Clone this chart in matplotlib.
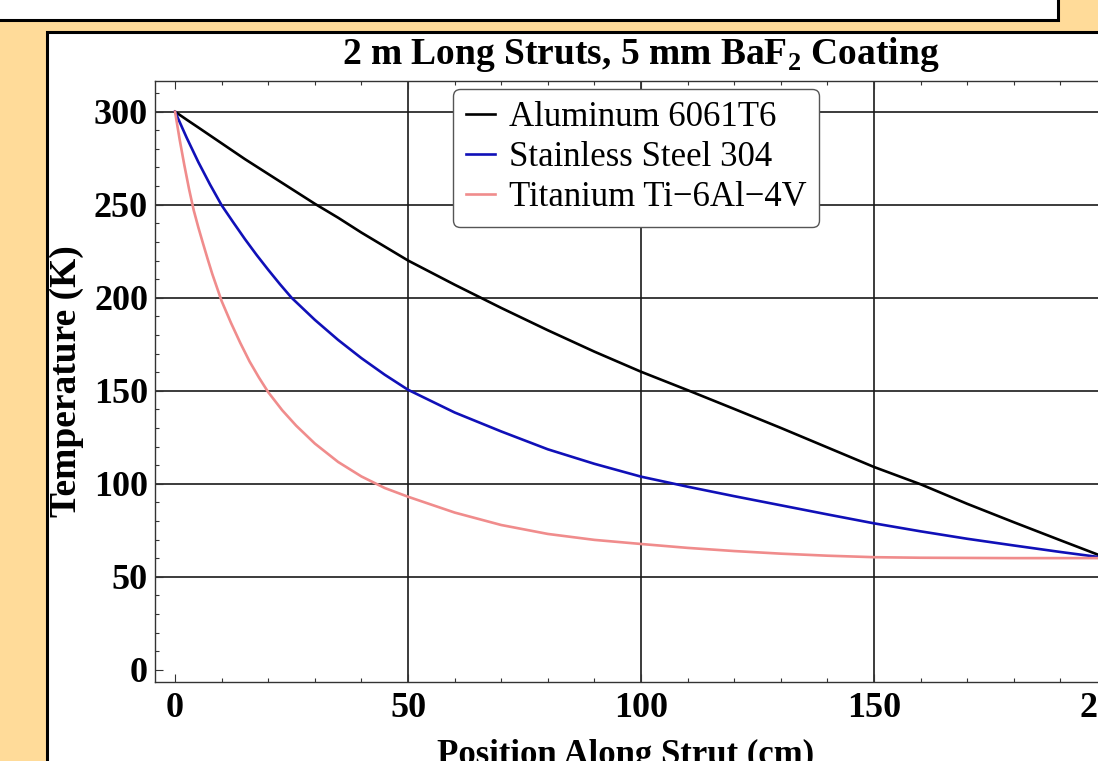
import matplotlib
matplotlib.use("Agg")
import matplotlib.pyplot as plt
from matplotlib.patches import Rectangle
from matplotlib.ticker import MultipleLocator

plt.rcParams['font.family'] = ['Liberation Serif', 'DejaVu Serif']
plt.rcParams['mathtext.fontset'] = 'custom'
plt.rcParams['mathtext.rm'] = 'Liberation Serif:bold'
plt.rcParams['mathtext.bf'] = 'Liberation Serif:bold'

# ---------------- data ----------------
title = r'2 m Long Struts, 5 mm BaF$_\mathbf{2}$ Coating'
xlabel = 'Position Along Strut (cm)'
ylabel = 'Temperature (K)'
series_names = ['Aluminum 6061T6', 'Stainless Steel 304', 'Titanium Ti\u22126Al\u22124V']

al_x = [0, 2.5, 5, 10, 15, 20, 25, 30, 35, 40, 45, 50, 60, 70, 80, 90, 100, 110, 120,
        130, 140, 150, 160, 170, 180, 190, 200]
al_T = [300, 295.7, 291.5, 283, 274.5, 266.5, 258.5, 250.5, 243, 235, 227.5, 220, 207,
        194.5, 182.5, 171, 160.2, 150.3, 140.2, 130, 119.5, 109, 99.7, 89.2, 79.3,
        69.6, 60]

ss_x = [0, 2.5, 5, 7.5, 10, 12.5, 15, 17.5, 20, 22.5, 25, 30, 35, 40, 45, 50, 60,
        70, 80, 90, 100, 110, 120, 130, 140, 150, 160, 170, 180, 190, 200]
ss_T = [300, 286, 272.9, 260.9, 249.7, 240.5, 231.5, 223, 215, 207.3, 200, 188.1,
        177.3, 167.5, 158.6, 150.5, 138.3, 128.1, 118.5, 110.7, 103.8, 98.4, 93.3,
        88.4, 83.5, 78.7, 74.4, 70.4, 66.8, 63.3, 60]

ti_x = [0, 1, 2, 3, 4, 5, 6, 7, 8, 10, 12, 14, 16, 18, 20, 23, 26, 30, 35, 40, 45,
        50, 60, 70, 80, 90, 100, 110, 120, 130, 140, 150, 160, 170, 180, 190, 200]
ti_T = [300, 284.9, 271.2, 258.5, 247.1, 237.8, 229.2, 220.8, 212.7, 198.2, 186.5,
        175.7, 165.7, 157.1, 149.2, 139.5, 131.2, 121.6, 111.7, 103.9, 97.7, 93,
        84.5, 77.8, 73, 69.8, 67.6, 65.5, 63.8, 62.4, 61.3, 60.5, 60.2, 60.1, 60,
        60, 60]

colors = ['#000000', '#1010B8', '#F08C8C']

W, H = 1098, 761


def fx(px):
    return px / W


def fy(py):
    return 1 - py / H


fig = plt.figure(figsize=(W / 100, H / 100), dpi=100, facecolor='#FFDB99')

# top white box (partially visible)
fig.add_artist(Rectangle((fx(-10), fy(20)), fx(1058) - fx(-10), fy(-10) - fy(20),
                         transform=fig.transFigure, facecolor='white',
                         edgecolor='black', linewidth=2.2, zorder=0))
# main white panel
fig.add_artist(Rectangle((fx(47), fy(800)), fx(1200) - fx(47), fy(32) - fy(800),
                         transform=fig.transFigure, facecolor='white',
                         edgecolor='black', linewidth=2.2, zorder=0))

ax_left, ax_right, ax_top, ax_bottom = 155, 1127, 81, 682
ax = fig.add_axes([fx(ax_left), fy(ax_bottom), fx(ax_right) - fx(ax_left),
                   fy(ax_top) - fy(ax_bottom)])
ax.set_facecolor('white')

for xs, ts, c, name in zip([al_x, ss_x, ti_x], [al_T, ss_T, ti_T], colors, series_names):
    ax.plot(xs, ts, color=c, linewidth=1.9, label=name, zorder=3,
            solid_joinstyle='round')

ax.set_xlim(-4.3, 204.3)
ax.set_ylim(-6.6, 316.5)
ax.xaxis.set_major_locator(MultipleLocator(50))
ax.xaxis.set_minor_locator(MultipleLocator(10))
ax.yaxis.set_major_locator(MultipleLocator(50))
ax.yaxis.set_minor_locator(MultipleLocator(10))

# grid lines (not at zero)
for gx in [50, 100, 150, 200]:
    ax.axvline(gx, color='#1a1a1a', linewidth=1.2, zorder=1)
for gy in [50, 100, 150, 200, 250, 300]:
    ax.axhline(gy, color='#1a1a1a', linewidth=1.2, zorder=1)

ax.tick_params(which='both', direction='in', top=True, right=True,
               color='#333333', width=0.8)
ax.tick_params(which='major', length=5.5)
ax.tick_params(which='minor', length=3)
ax.tick_params(axis='x', which='major', pad=7, labelsize=26)
ax.tick_params(axis='y', which='major', pad=5, labelsize=26)
for lab in ax.get_xticklabels() + ax.get_yticklabels():
    lab.set_fontweight('bold')
for s in ax.spines.values():
    s.set_linewidth(1.0)
    s.set_color('#333333')

fig.text(fx(641), fy(55), title, ha='center', va='center', fontsize=27,
         fontweight='bold')
fig.text(fx(626), fy(755), xlabel, ha='center', va='center', fontsize=25,
         fontweight='bold')
fig.text(fx(67), fy(381), ylabel, ha='center', va='center', fontsize=27,
         fontweight='bold', rotation=90)

leg = ax.legend(loc='upper left', bbox_to_anchor=(fx(453), fy(89)),
                bbox_transform=fig.transFigure, fontsize=25, frameon=True,
                fancybox=True, handlelength=0.85, handletextpad=0.4,
                labelspacing=0.2, borderpad=0.36, borderaxespad=0)
leg.get_frame().set_edgecolor('#555555')
leg.get_frame().set_linewidth(1.0)
leg.get_frame().set_alpha(1)

fig.savefig('out.png', dpi=100, facecolor=fig.get_facecolor())
